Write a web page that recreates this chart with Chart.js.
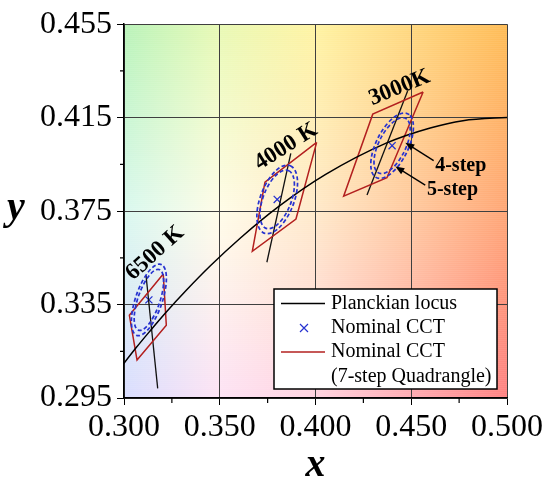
<!DOCTYPE html>
<html>
<head>
<meta charset="utf-8">
<script src="https://cdn.jsdelivr.net/npm/chart.js@4.4.0/dist/chart.umd.min.js"></script>
<style>
  html, body { margin: 0; padding: 0; background: #fff; }
</style>
</head>
<body>
<canvas id="myChart" width="550" height="489"></canvas>
<script>
// planckian locus (CIE 1931 x,y), 8000K -> 2200K
var locusX = [0.2952, 0.3064, 0.3135, 0.3221, 0.3324, 0.3451, 0.3608, 0.3805, 0.4053, 0.4369, 0.4599, 0.4770, 0.5018];
var locusY = [0.3048, 0.3166, 0.3236, 0.3318, 0.3410, 0.3516, 0.3635, 0.3768, 0.3907, 0.4041, 0.4106, 0.4137, 0.4152];

// nominal CCT points
var cctLabels = ['6500 K', '4000 K', '3000K'];
var nominalX = [0.313, 0.380, 0.440];
var nominalY = [0.337, 0.380, 0.403];

// 7-step quadrangles (one row per CCT)
var quadX = [
  [0.3205, 0.3028, 0.3068, 0.3221, 0.3205],
  [0.4006, 0.3736, 0.3670, 0.3898, 0.4006],
  [0.4562, 0.4299, 0.4147, 0.4373, 0.4562]
];
var quadY = [
  [0.3481, 0.3304, 0.3113, 0.3261, 0.3481],
  [0.4044, 0.3874, 0.3578, 0.3716, 0.4044],
  [0.4260, 0.4165, 0.3814, 0.3893, 0.4260]
];

// isotherm segments
var isoX = [[0.3115, 0.3176], [0.3871, 0.3746], [0.4481, 0.4269]];
var isoY = [[0.3475, 0.2991], [0.3997, 0.3531], [0.4264, 0.3819]];

// ellipses (semi axes in x,y units, angle in degrees)
var ell5A = [0.0165, 0.0160, 0.0160];
var ell5B = [0.0068, 0.0085, 0.0080];
var ell4A = [0.0141, 0.0137, 0.0137];
var ell4B = [0.0056, 0.0071, 0.0067];
var ellAngle = [66, 62, 56];

// CCT label positions
var labelX = [0.3162, 0.3846, 0.4439];
var labelY = [0.3570, 0.4026, 0.4278];
var labelAngle = [-42, -32.5, -22];

// step annotations
var stepLabels = ['4-step', '5-step'];
var stepTextX = [0.4625, 0.4582];
var stepTextY = [0.3945, 0.3843];
var arrowFromX = [0.4617, 0.4573];
var arrowFromY = [0.3966, 0.3861];
var arrowToX = [0.4469, 0.4417];
var arrowToY = [0.4043, 0.3941];

// ticks
var xTicks = [0.300, 0.350, 0.400, 0.450, 0.500];
var yTicks = [0.295, 0.335, 0.375, 0.415, 0.455];
var xMinor = [0.325, 0.375, 0.425, 0.475];
var yMinor = [0.315, 0.355, 0.395, 0.435];

// background colours: rows top / middle / bottom, columns x = 0.30 .. 0.50
var bgTop = ['#b9f3b9', '#e8f9b4', '#fff3a2', '#ffd77e', '#ffbc56'];
var bgMid = ['#d9f8ef', '#fffce8', '#ffe9ca', '#ffc9a0', '#ffa676'];
var bgBot = ['#d9ddff', '#fde2f4', '#ffd2e0', '#ffaab2', '#ff8282'];

var serif = '"Liberation Serif", "Times New Roman", serif';
var redQuad = '#b3201f';
var blueEll = '#2632d0';

function toPoints(xs, ys) {
  var pts = [];
  for (var i = 0; i < xs.length; i++) {
    pts.push({ x: xs[i], y: ys[i] });
  }
  return pts;
}

function hexRgb(h) {
  return [parseInt(h.substr(1, 2), 16), parseInt(h.substr(3, 2), 16), parseInt(h.substr(5, 2), 16)];
}

function mix(c1, c2, t) {
  var a = hexRgb(c1), b = hexRgb(c2);
  return 'rgb(' + Math.round(a[0] + (b[0] - a[0]) * t) + ',' + Math.round(a[1] + (b[1] - a[1]) * t) + ',' + Math.round(a[2] + (b[2] - a[2]) * t) + ')';
}

// background gradient behind the plot area
var backgroundPlugin = {
  id: 'bg',
  beforeDraw: function(chart) {
    var ctx = chart.ctx, a = chart.chartArea;
    var h = a.bottom - a.top;
    ctx.save();
    for (var yy = 0; yy < h; yy += 2) {
      var t = yy / h;
      var grad = ctx.createLinearGradient(a.left, 0, a.right, 0);
      for (var c = 0; c < bgTop.length; c++) {
        var col = t < 0.5 ? mix(bgTop[c], bgMid[c], t * 2) : mix(bgMid[c], bgBot[c], (t - 0.5) * 2);
        grad.addColorStop(c / (bgTop.length - 1), col);
      }
      ctx.fillStyle = grad;
      ctx.fillRect(a.left, a.top + yy, a.right - a.left, 2.5);
    }
    ctx.restore();
  }
};

function drawEllipse(ctx, xs, ys, cx, cy, ea, eb, ang) {
  var kx = (xs.getPixelForValue(0.5) - xs.getPixelForValue(0.3)) / 0.2;
  var ky = (ys.getPixelForValue(0.295) - ys.getPixelForValue(0.455)) / 0.16;
  ctx.save();
  ctx.translate(xs.getPixelForValue(cx), ys.getPixelForValue(cy));
  ctx.scale(kx, -ky);
  ctx.rotate(ang * Math.PI / 180);
  ctx.beginPath();
  ctx.ellipse(0, 0, ea, eb, 0, 0, 2 * Math.PI);
  ctx.restore();
  ctx.stroke();
}

function drawArrow(ctx, x1, y1, x2, y2) {
  var ang = Math.atan2(y2 - y1, x2 - x1);
  ctx.beginPath();
  ctx.moveTo(x1, y1);
  ctx.lineTo(x2 - 6 * Math.cos(ang), y2 - 6 * Math.sin(ang));
  ctx.stroke();
  ctx.beginPath();
  ctx.moveTo(x2, y2);
  ctx.lineTo(x2 - 9 * Math.cos(ang) + 3.5 * Math.sin(ang), y2 - 9 * Math.sin(ang) - 3.5 * Math.cos(ang));
  ctx.lineTo(x2 - 9 * Math.cos(ang) - 3.5 * Math.sin(ang), y2 - 9 * Math.sin(ang) + 3.5 * Math.cos(ang));
  ctx.closePath();
  ctx.fill();
}

// ellipses, minor ticks, annotations, legend, axis titles
var overlayPlugin = {
  id: 'overlay',
  afterDatasetsDraw: function(chart) {
    var ctx = chart.ctx, xs = chart.scales.x, ys = chart.scales.y;
    ctx.save();
    ctx.strokeStyle = blueEll;
    ctx.lineWidth = 1.7;
    ctx.setLineDash([4, 2.5]);
    for (var i = 0; i < nominalX.length; i++) {
      drawEllipse(ctx, xs, ys, nominalX[i], nominalY[i], ell5A[i], ell5B[i], ellAngle[i]);
      drawEllipse(ctx, xs, ys, nominalX[i], nominalY[i], ell4A[i], ell4B[i], ellAngle[i]);
    }
    ctx.restore();
  },
  afterDraw: function(chart) {
    var ctx = chart.ctx, xs = chart.scales.x, ys = chart.scales.y, a = chart.chartArea;
    var i;
    ctx.save();

    // minor ticks (outward)
    ctx.strokeStyle = '#000';
    ctx.lineWidth = 1.2;
    ctx.beginPath();
    for (i = 0; i < xMinor.length; i++) {
      var mx = xs.getPixelForValue(xMinor[i]);
      ctx.moveTo(mx, a.bottom);
      ctx.lineTo(mx, a.bottom + 5);
    }
    for (i = 0; i < yMinor.length; i++) {
      var my = ys.getPixelForValue(yMinor[i]);
      ctx.moveTo(a.left, my);
      ctx.lineTo(a.left - 4, my);
    }
    ctx.stroke();

    // CCT labels
    ctx.fillStyle = '#000';
    ctx.font = 'bold 23px ' + serif;
    ctx.textAlign = 'center';
    ctx.textBaseline = 'middle';
    for (i = 0; i < cctLabels.length; i++) {
      ctx.save();
      ctx.translate(xs.getPixelForValue(labelX[i]), ys.getPixelForValue(labelY[i]));
      ctx.rotate(labelAngle[i] * Math.PI / 180);
      ctx.fillText(cctLabels[i], 0, 0);
      ctx.restore();
    }

    // step labels + arrows
    ctx.font = 'bold 20px ' + serif;
    ctx.textAlign = 'left';
    ctx.lineWidth = 1.3;
    for (i = 0; i < stepLabels.length; i++) {
      ctx.fillText(stepLabels[i], xs.getPixelForValue(stepTextX[i]), ys.getPixelForValue(stepTextY[i]));
      drawArrow(ctx, xs.getPixelForValue(arrowFromX[i]), ys.getPixelForValue(arrowFromY[i]),
        xs.getPixelForValue(arrowToX[i]), ys.getPixelForValue(arrowToY[i]));
    }

    // legend
    var lx = a.right - 233, ly = a.bottom - 109;
    ctx.fillStyle = '#fff';
    ctx.fillRect(lx, ly, 223, 100);
    ctx.strokeStyle = '#000';
    ctx.lineWidth = 1.5;
    ctx.strokeRect(lx, ly, 223, 100);
    ctx.font = '20px ' + serif;
    ctx.fillStyle = '#000';
    ctx.textBaseline = 'middle';
    var rows = [lx + 0, ly + 14.5, ly + 39, ly + 63, ly + 87.5];
    ctx.lineWidth = 1.3;
    ctx.beginPath();
    ctx.moveTo(lx + 7, rows[1]);
    ctx.lineTo(lx + 51, rows[1]);
    ctx.stroke();
    ctx.fillText('Planckian locus', lx + 57, rows[1]);
    ctx.strokeStyle = blueEll;
    ctx.lineWidth = 1.2;
    ctx.beginPath();
    ctx.moveTo(lx + 26, rows[2] - 4);
    ctx.lineTo(lx + 34, rows[2] + 4);
    ctx.moveTo(lx + 34, rows[2] - 4);
    ctx.lineTo(lx + 26, rows[2] + 4);
    ctx.stroke();
    ctx.fillText('Nominal CCT', lx + 57, rows[2]);
    ctx.strokeStyle = redQuad;
    ctx.lineWidth = 1.5;
    ctx.beginPath();
    ctx.moveTo(lx + 7, rows[3]);
    ctx.lineTo(lx + 51, rows[3]);
    ctx.stroke();
    ctx.fillText('Nominal CCT', lx + 57, rows[3]);
    ctx.fillText('(7-step Quadrangle)', lx + 57, rows[4]);

    // axis titles
    ctx.font = 'bold italic 40px ' + serif;
    ctx.textAlign = 'center';
    ctx.fillText('x', (a.left + a.right) / 2, 466);
    ctx.fillText('y', 16, (a.top + a.bottom) / 2 - 2);
    ctx.restore();
  }
};

var datasets = [];
datasets.push({
  label: 'Planckian locus',
  data: toPoints(locusX, locusY),
  showLine: true,
  borderColor: '#000',
  borderWidth: 1.5,
  pointRadius: 0,
  cubicInterpolationMode: 'monotone',
  clip: 0
});
for (var q = 0; q < quadX.length; q++) {
  datasets.push({
    label: 'Quadrangle ' + cctLabels[q],
    data: toPoints(quadX[q], quadY[q]),
    showLine: true,
    borderColor: redQuad,
    borderWidth: 1.5,
    pointRadius: 0
  });
  datasets.push({
    label: 'Isotherm ' + cctLabels[q],
    data: toPoints(isoX[q], isoY[q]),
    showLine: true,
    borderColor: '#111',
    borderWidth: 1.3,
    pointRadius: 0
  });
}
datasets.push({
  label: 'Nominal CCT',
  data: toPoints(nominalX, nominalY),
  showLine: false,
  pointStyle: 'crossRot',
  pointRadius: 5,
  borderColor: blueEll,
  borderWidth: 1.3
});

var ctx = document.getElementById('myChart').getContext('2d');
var chart = new Chart(ctx, {
  type: 'scatter',
  data: { datasets: datasets },
  options: {
    responsive: false,
    animation: false,
    layout: { padding: { top: 18, right: 43, left: 0, bottom: 0 } },
    plugins: {
      legend: { display: false },
      tooltip: { enabled: false }
    },
    scales: {
      x: {
        type: 'linear',
        min: 0.3,
        max: 0.5,
        afterBuildTicks: function(scale) {
          scale.ticks = xTicks.map(function(v) { return { value: v }; });
        },
        afterFit: function(scale) { scale.height = 91; },
        ticks: {
          color: '#000',
          padding: 3,
          maxRotation: 0,
          font: { family: serif, size: 32 },
          callback: function(v) { return Number(v).toFixed(3); }
        },
        grid: { color: '#3f3f3f', lineWidth: 1, tickLength: 7, tickColor: '#000' },
        border: { color: '#000', width: 1.5 }
      },
      y: {
        type: 'linear',
        min: 0.295,
        max: 0.455,
        afterBuildTicks: function(scale) {
          scale.ticks = yTicks.map(function(v) { return { value: v }; });
        },
        afterFit: function(scale) { scale.width = 124; },
        ticks: {
          color: '#000',
          padding: 5,
          font: { family: serif, size: 32 },
          callback: function(v) { return Number(v).toFixed(3); }
        },
        grid: { color: '#3f3f3f', lineWidth: 1, tickLength: 7, tickColor: '#000' },
        border: { color: '#000', width: 1.5 }
      }
    }
  },
  plugins: [backgroundPlugin, overlayPlugin]
});
</script>
</body>
</html>
